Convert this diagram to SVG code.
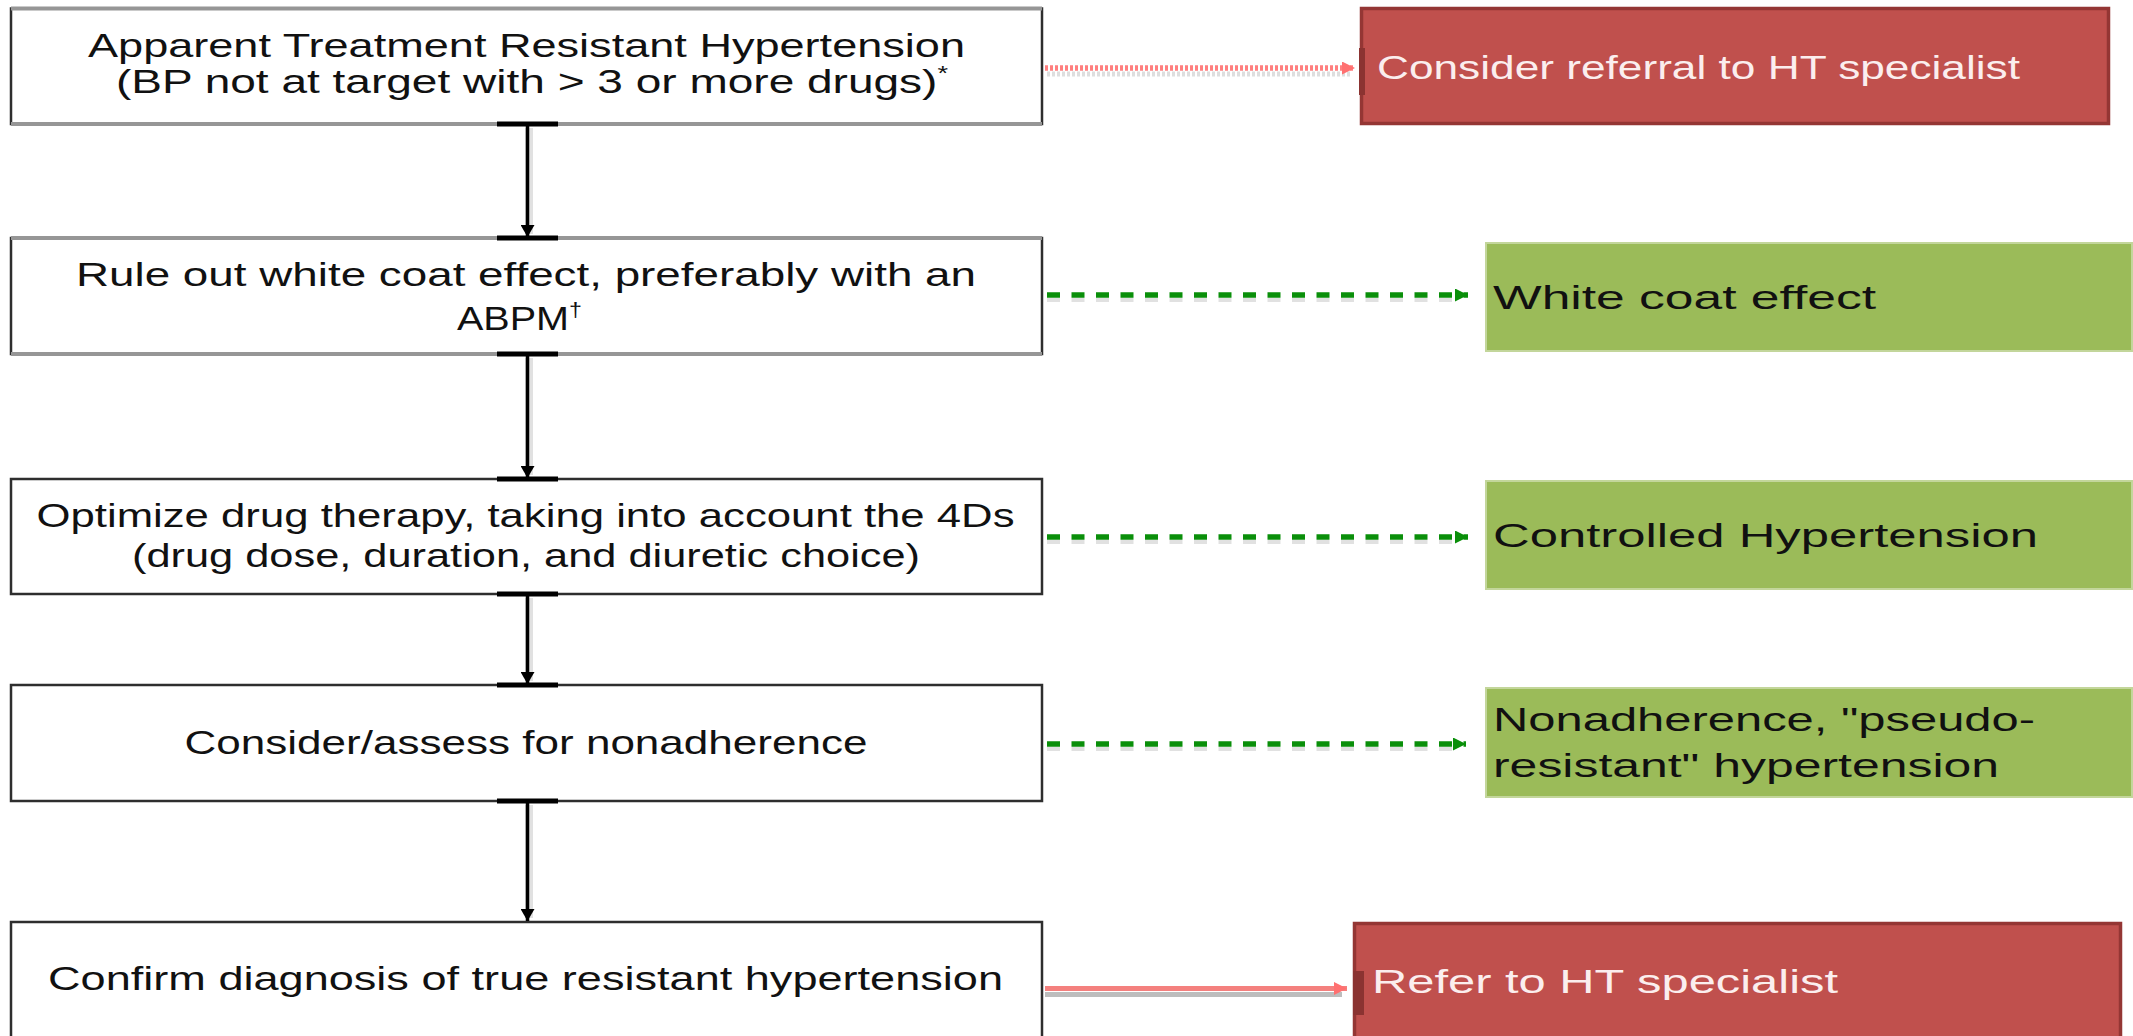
<svg xmlns="http://www.w3.org/2000/svg" width="2133" height="1036" viewBox="0 0 2133 1036">
  <style>
    .box { fill: #ffffff; stroke: #2e2e2e; stroke-width: 2.5; }
    .edge-gray { stroke: #969696; stroke-width: 4; }
    .red { fill: #c0504d; stroke: #943634; stroke-width: 3.5; }
    .green { fill: #9bbb59; stroke: #c3d69b; stroke-width: 2; }
    .t { font-family: "Liberation Sans", Arial, sans-serif; font-size: 34px; fill: #111111; }
    .tw { font-family: "Liberation Sans", Arial, sans-serif; font-size: 34px; fill: #fbeeee; }
    .sup { font-size: 20px; }
    .vline { stroke: #000000; stroke-width: 3.5; fill: none; }
    .vshadow { stroke: #bdbdbd; stroke-width: 8; fill: none; opacity: 0.45; }
    .tab { fill: #000000; }
    .gdash { stroke: #0a8f0a; stroke-width: 5.5; stroke-dasharray: 13 11.5; fill: none; }
    .gshadow { stroke: #d4d4d4; stroke-width: 4; stroke-dasharray: 13 11.5; fill: none; opacity: 0.7; }
    .rdot { stroke: #ff7f7f; stroke-width: 5.5; stroke-dasharray: 3 2; fill: none; }
    .rdshadow { stroke: #c8c8c8; stroke-width: 5; stroke-dasharray: 3 2; fill: none; opacity: 0.6; }
    .rsolid { stroke: #f4807e; stroke-width: 5; fill: none; }
    .rsshadow { stroke: #bdbdbd; stroke-width: 5; fill: none; }
    .rtab { fill: #8b3331; }
  </style>
  <defs>
    <marker id="ah-black" markerUnits="userSpaceOnUse" markerWidth="12" markerHeight="14" refX="12" refY="7" orient="auto">
      <path d="M0,0 L12,7 L0,14 z" fill="#000000"/>
    </marker>
    <marker id="ah-green" markerUnits="userSpaceOnUse" markerWidth="13" markerHeight="13" refX="13" refY="6.5" orient="auto">
      <path d="M0,0 L13,6.5 L0,13 z" fill="#0a8f0a"/>
    </marker>
    <marker id="ah-red" markerUnits="userSpaceOnUse" markerWidth="13" markerHeight="13" refX="13" refY="6.5" orient="auto">
      <path d="M0,0 L13,6.5 L0,13 z" fill="#ff7070"/>
    </marker>
  </defs>

  <rect x="0" y="0" width="2133" height="1036" fill="#ffffff"/>

  <g id="node-apparent">
    <rect class="box" x="11" y="8.5" width="1031" height="115.5"/>
    <line class="edge-gray" x1="11" y1="8.5" x2="1042" y2="8.5"/>
    <line class="edge-gray" x1="11" y1="124" x2="1042" y2="124"/>
    <text class="t" x="88" y="57" textLength="877" lengthAdjust="spacingAndGlyphs">Apparent Treatment Resistant Hypertension</text>
    <text class="t" x="116" y="93" textLength="832" lengthAdjust="spacingAndGlyphs">(BP not at target with &gt; 3 or more drugs)<tspan class="sup" dy="-13">*</tspan></text>
  </g>

  <g id="node-white-coat-check">
    <rect class="box" x="11" y="238" width="1031" height="116"/>
    <line class="edge-gray" x1="11" y1="238" x2="1042" y2="238"/>
    <line class="edge-gray" x1="11" y1="354" x2="1042" y2="354"/>
    <text class="t" x="76" y="286" textLength="900" lengthAdjust="spacingAndGlyphs">Rule out white coat effect, preferably with an</text>
    <text class="t" x="457" y="330" textLength="125" lengthAdjust="spacingAndGlyphs">ABPM<tspan class="sup" dy="-13">†</tspan></text>
  </g>

  <g id="node-optimize">
    <rect class="box" x="11" y="479" width="1031" height="115"/>
    <text class="t" x="36.5" y="527" textLength="978" lengthAdjust="spacingAndGlyphs">Optimize drug therapy, taking into account the 4Ds</text>
    <text class="t" x="132" y="567" textLength="788" lengthAdjust="spacingAndGlyphs">(drug dose, duration, and diuretic choice)</text>
  </g>

  <g id="node-nonadherence-check">
    <rect class="box" x="11" y="685" width="1031" height="116"/>
    <text class="t" x="184.5" y="754" textLength="683" lengthAdjust="spacingAndGlyphs">Consider/assess for nonadherence</text>
  </g>

  <g id="node-confirm">
    <rect class="box" x="11" y="922" width="1031" height="120"/>
    <text class="t" x="48" y="990" textLength="955" lengthAdjust="spacingAndGlyphs">Confirm diagnosis of true resistant hypertension</text>
  </g>

  <g id="node-consider-referral">
    <rect class="red" x="1361.5" y="8.5" width="747" height="115"/>
    <rect class="rtab" x="1359" y="48" width="6" height="47"/>
    <text class="tw" x="1377" y="79" textLength="643" lengthAdjust="spacingAndGlyphs">Consider referral to HT specialist</text>
  </g>

  <g id="node-white-coat-effect">
    <rect class="green" x="1486" y="243" width="646" height="108"/>
    <text class="t" x="1493" y="309" textLength="383" lengthAdjust="spacingAndGlyphs">White coat effect</text>
  </g>

  <g id="node-controlled">
    <rect class="green" x="1486" y="481" width="646" height="108"/>
    <text class="t" x="1493" y="547" textLength="545" lengthAdjust="spacingAndGlyphs">Controlled Hypertension</text>
  </g>

  <g id="node-pseudo-resistant">
    <rect class="green" x="1486" y="688" width="646" height="109"/>
    <text class="t" x="1493" y="731" textLength="542" lengthAdjust="spacingAndGlyphs">Nonadherence, "pseudo-</text>
    <text class="t" x="1493" y="777" textLength="506" lengthAdjust="spacingAndGlyphs">resistant" hypertension</text>
  </g>

  <g id="node-refer">
    <rect class="red" x="1354.5" y="923.5" width="766" height="120"/>
    <rect class="rtab" x="1353" y="971" width="11" height="44"/>
    <text class="tw" x="1372" y="993" textLength="466" lengthAdjust="spacingAndGlyphs">Refer to HT specialist</text>
  </g>

  <g id="connectors">
    <line class="vshadow" x1="529" y1="128" x2="529" y2="234"/>
    <line class="vshadow" x1="529" y1="358" x2="529" y2="475"/>
    <line class="vshadow" x1="529" y1="598" x2="529" y2="681"/>
    <line class="vshadow" x1="529" y1="805" x2="529" y2="918"/>
    <line class="vline" x1="527.5" y1="126" x2="527.5" y2="237" marker-end="url(#ah-black)"/>
    <line class="vline" x1="527.5" y1="356" x2="527.5" y2="478" marker-end="url(#ah-black)"/>
    <line class="vline" x1="527.5" y1="596" x2="527.5" y2="684" marker-end="url(#ah-black)"/>
    <line class="vline" x1="527.5" y1="803" x2="527.5" y2="921" marker-end="url(#ah-black)"/>
    <rect class="tab" x="497" y="121.5" width="61" height="5"/>
    <rect class="tab" x="497" y="235.5" width="61" height="5"/>
    <rect class="tab" x="497" y="351.5" width="61" height="5"/>
    <rect class="tab" x="497" y="476.5" width="61" height="5"/>
    <rect class="tab" x="497" y="591.5" width="61" height="5"/>
    <rect class="tab" x="497" y="682.5" width="61" height="5"/>
    <rect class="tab" x="497" y="798.5" width="61" height="5"/>

    <line class="rdshadow" x1="1047" y1="74" x2="1350" y2="74"/>
    <line class="rdot" x1="1045" y1="68" x2="1355" y2="68" marker-end="url(#ah-red)"/>

    <line class="gshadow" x1="1047" y1="300" x2="1462" y2="300"/>
    <line class="gdash" x1="1047" y1="295" x2="1468" y2="295" marker-end="url(#ah-green)"/>
    <line class="gshadow" x1="1047" y1="542" x2="1462" y2="542"/>
    <line class="gdash" x1="1047" y1="537" x2="1468" y2="537" marker-end="url(#ah-green)"/>
    <line class="gshadow" x1="1047" y1="749" x2="1460" y2="749"/>
    <line class="gdash" x1="1047" y1="744" x2="1466" y2="744" marker-end="url(#ah-green)"/>

    <line class="rsshadow" x1="1045" y1="994.5" x2="1342" y2="994.5"/>
    <line class="rsolid" x1="1045" y1="988.5" x2="1347" y2="988.5" marker-end="url(#ah-red)"/>
  </g>
</svg>
